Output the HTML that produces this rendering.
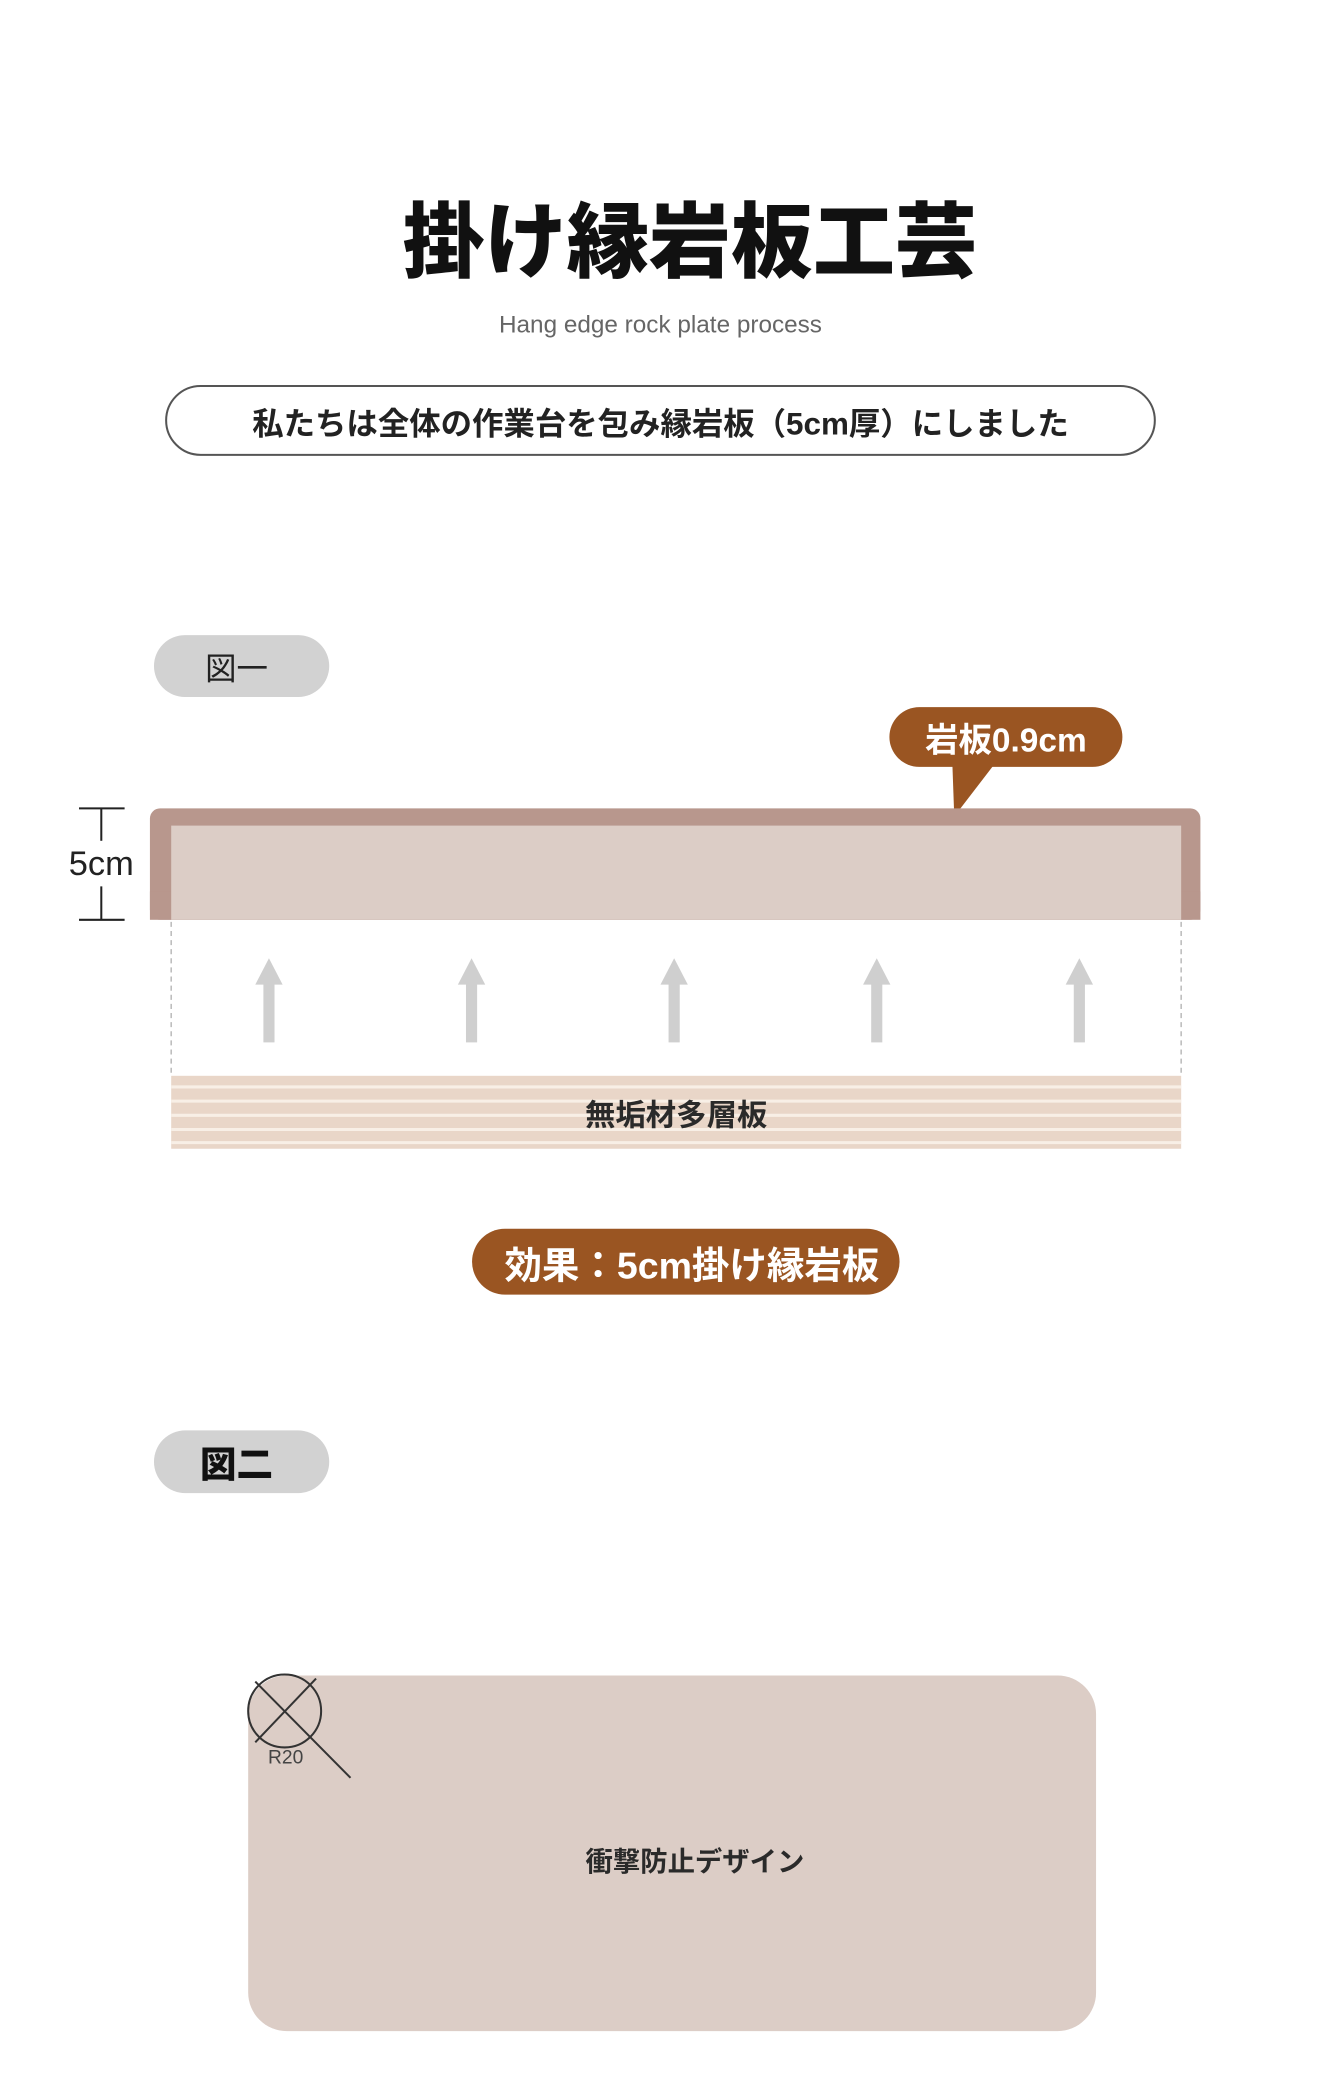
<!DOCTYPE html>
<html><head><meta charset="utf-8"><style>
body{margin:0;width:1322px;height:2048px;background:#fff;position:relative;overflow:hidden;font-family:"Liberation Sans","Noto Sans CJK JP",sans-serif}
#w{position:absolute;left:0;top:0;width:1322px;height:2048px;transform:scale(1.013);transform-origin:0 0}
.a{position:absolute}
.c{display:flex;align-items:center;justify-content:center;white-space:nowrap}
</style></head><body><div id="w">
<div class="a c" style="left:20px;width:1322px;top:185px;height:95px;font-size:81px;font-weight:900;color:#111">掛け縁岩板工芸</div>
<div class="a c" style="left:0;width:1304px;top:305px;height:32px;font-size:24px;color:#666">Hang edge rock plate process</div>
<div class="a c" style="left:163px;top:380px;width:978px;height:70px;border:2px solid #555;border-radius:40px;box-sizing:border-box;font-size:31px;font-weight:bold;color:#222">私たちは全体の作業台を包み縁岩板（5cm厚）にしました</div>

<div class="a c" style="left:152px;top:627px;width:173px;height:61px;background:#d2d2d2;border-radius:31px;font-size:31px;color:#222;padding-right:10px;box-sizing:border-box">図一</div>

<svg class="a" style="left:0;top:0" width="1322" height="2048">
<path d="M940 750 L985 750 L942 806 Z" fill="#9a5522"/>
<rect x="148" y="798" width="1037" height="110" rx="10" fill="#b8978d"/>
<rect x="148" y="880" width="1037" height="28" fill="#b8978d"/>
<rect x="169" y="815" width="997" height="93" fill="#dccdc6"/>
<g stroke="#222" stroke-width="2"><line x1="100" y1="798" x2="100" y2="830"/><line x1="100" y1="875" x2="100" y2="908"/><line x1="78" y1="798" x2="123" y2="798"/><line x1="78" y1="908" x2="123" y2="908"/></g>
<text x="100" y="864" font-size="34" text-anchor="middle" fill="#222" font-family="Liberation Sans, sans-serif">5cm</text>
<g stroke="#bbb" stroke-width="1.5" stroke-dasharray="5,4"><line x1="169" y1="910" x2="169" y2="1062"/><line x1="1166" y1="910" x2="1166" y2="1062"/></g>
<g fill="#cfcfcf">
<g id="ar"><rect x="260" y="968" width="11" height="61"/><path d="M252 972 L265.5 946 L279 972 Z"/></g>
<use href="#ar" x="200"/><use href="#ar" x="400"/><use href="#ar" x="600"/><use href="#ar" x="800"/>
</g>
<rect x="169" y="1062" width="997" height="72" fill="#e9d6c8"/>
<g stroke="#f8efe6" stroke-width="3"><line x1="169" y1="1073" x2="1166" y2="1073"/><line x1="169" y1="1087" x2="1166" y2="1087"/><line x1="169" y1="1101" x2="1166" y2="1101"/><line x1="169" y1="1115" x2="1166" y2="1115"/><line x1="169" y1="1128" x2="1166" y2="1128"/></g>
<rect x="245" y="1654" width="837" height="351" rx="38" fill="#dccdc6"/>
<circle cx="281" cy="1689" r="36" fill="none" stroke="#333" stroke-width="2"/>
<g stroke="#333" stroke-width="2"><line x1="252" y1="1660" x2="346" y2="1755"/><line x1="312" y1="1657" x2="252" y2="1720"/></g>
<text x="282" y="1741" font-size="19" text-anchor="middle" fill="#444" font-family="Liberation Sans, sans-serif">R20</text>
</svg>

<div class="a c" style="left:878px;top:698px;width:230px;height:59px;background:#9a5522;border-radius:30px;font-size:33px;font-weight:bold;color:#fff">岩板0.9cm</div>
<div class="a c" style="left:169px;top:1078px;width:997px;height:40px;font-size:30px;font-weight:bold;color:#2a2a2a">無垢材多層板</div>
<div class="a c" style="left:466px;top:1213px;width:422px;height:65px;background:#9a5522;border-radius:33px;font-size:37px;font-weight:bold;color:#fff;padding-left:12px;box-sizing:border-box">効果：5cm掛け縁岩板</div>
<div class="a c" style="left:152px;top:1412px;width:173px;height:62px;background:#d2d2d2;border-radius:31px;font-size:36px;font-weight:900;color:#111;padding-right:10px;box-sizing:border-box">図二</div>
<div class="a c" style="left:486px;top:1815px;width:400px;height:40px;font-size:27px;font-weight:bold;color:#2a2a2a">衝撃防止デザイン</div>
</div></body></html>
